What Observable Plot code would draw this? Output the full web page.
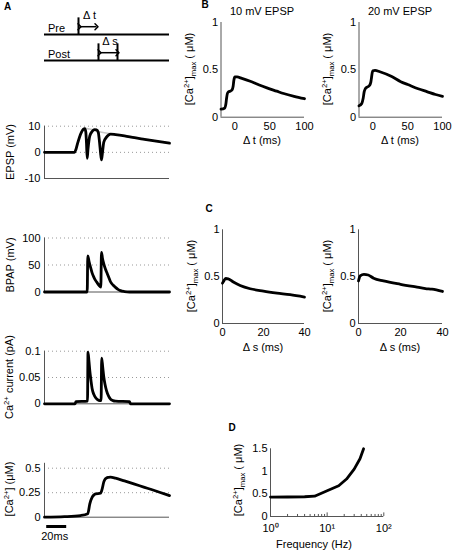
<!DOCTYPE html>
<html><head><meta charset="utf-8">
<script src="https://cdn.jsdelivr.net/npm/d3@7"></script>
<script src="https://cdn.jsdelivr.net/npm/@observablehq/plot@0.6"></script>
<style>
body{margin:0;background:#fff;}
#fig{position:relative;width:454px;height:550px;overflow:hidden;font-family:"Liberation Sans",Arial,Helvetica,sans-serif;color:#000;}
.abs{position:absolute;}
.lab{position:absolute;white-space:nowrap;line-height:1;font-size:11px;}
.rot{transform:translate(-50%,-50%) rotate(-90deg);}
.ctr{transform:translate(-50%,-50%);}
.plab{font-weight:bold;font-size:10px;}
sup{font-size:0.7em;vertical-align:0;position:relative;top:-0.5em;}
sub{font-size:0.7em;vertical-align:0;position:relative;top:0.35em;}
</style>
</head><body><div id="fig"></div>
<script>
// ---------- DATA ----------
// Panel A schematic
const schemRows = [{name: "Pre", level: 1}, {name: "Post", level: 0}];
const schemSpikes = [{t: 34, level: 1}, {t: 54, level: 0}, {t: 73, level: 0}];
const schemIntervals = [{label: "Δ t", t1: 34, t2: 52, level: 1}, {label: "Δ s", t1: 54, t2: 73, level: 0}];
const timeDomain = [0, 125]; // ms

// Panel A traces (time in ms)
const epspTime = [0, 30, 31.5, 33, 35, 37, 39, 40.3, 41.3, 42, 42.7, 43.5, 45.3, 47.7, 50, 52, 53.8, 55, 56, 57, 58, 59.3, 62, 66, 71, 80, 90, 100, 110, 125];
const epspMV   = [0, 0, 1.2, 3.3, 5.8, 7.7, 8.9, 9.1, 7.8, 3.5, -2.3, 1.2, 6.3, 8.0, 8.7, 8.6, 7.6, 4, 0, -2.9, 0, 3.9, 5.8, 7.0, 6.8, 6.3, 5.6, 5.0, 4.4, 3.5];
const epspAloneTime = [30, 31.5, 33, 35, 37, 39, 40.3, 45, 50, 55, 60, 66, 71, 80, 90, 100, 110, 125];
const epspAloneMV   = [0, 1.2, 3.3, 5.8, 7.7, 8.9, 9.2, 8.9, 8.4, 7.9, 7.5, 7.1, 6.85, 6.3, 5.6, 5.0, 4.4, 3.5];
const epspTicks = [-10, 0, 10];

const bpapTime = [0, 42.7, 43.3, 44.5, 46, 47.5, 49.3, 51, 52.7, 54.5, 56.3, 57, 58, 59.3, 61, 62.7, 64.5, 66, 68.5, 71, 73.5, 76, 80, 85, 125];
const bpapMV   = [0, 0, 67, 57, 46, 36, 27.6, 21.5, 17, 12.5, 9, 73.5, 62, 52, 42, 34.4, 26, 19, 13, 8.6, 5, 2.5, 0.8, 0, 0];
const bpapTicks = [0, 50, 100];

const icaTime = [0, 30.5, 31.5, 43, 43.5, 44.5, 45.3, 46.5, 47.7, 49.3, 51, 53, 55.3, 56.6, 57.2, 58.2, 59.3, 60.5, 62, 64, 66, 68.5, 71, 85, 86, 125];
const icaPA   = [0, 0, 0.004, 0.005, 0.098, 0.08, 0.063, 0.044, 0.028, 0.018, 0.012, 0.008, 0.006, 0.006, 0.087, 0.07, 0.051, 0.037, 0.025, 0.015, 0.009, 0.006, 0.005, 0.004, 0, 0];
const icaTicks = [0, 0.05, 0.1];

const caTime = [0, 20, 36, 43.3, 45.3, 47.7, 49.5, 51, 56, 57.7, 59.3, 60.7, 62, 64, 66, 71, 80, 89.3, 100, 107.7, 115, 125];
const caUM   = [0, 0.005, 0.017, 0.036, 0.136, 0.205, 0.228, 0.238, 0.245, 0.29, 0.36, 0.39, 0.40, 0.406, 0.408, 0.398, 0.37, 0.34, 0.305, 0.28, 0.255, 0.22];
const caTicks = [0, 0.25, 0.5];
const scaleBar = [{start: 1.7, length: 20, label: "20ms"}];

// Panel B: peak [Ca2+] vs Δt
const dtTicks = [0, 50, 100];
const dt10 = [-20, -15, -13, -12, -11, -10, -6, -4, -2.5, -1.5, 0, 3, 10, 22, 35, 46, 60, 70, 85, 100];
const ca10 = [0.085, 0.095, 0.14, 0.2, 0.245, 0.262, 0.278, 0.29, 0.33, 0.39, 0.425, 0.425, 0.41, 0.38, 0.34, 0.31, 0.275, 0.25, 0.22, 0.195];
const dt20 = [-20, -16, -14, -12.5, -11, -9, -5, -3, -2, -1, 0, 3, 10, 27, 40, 50, 65, 77.5, 90, 100];
const ca20 = [0.12, 0.145, 0.2, 0.27, 0.3, 0.315, 0.335, 0.37, 0.42, 0.47, 0.49, 0.495, 0.48, 0.43, 0.375, 0.345, 0.3, 0.27, 0.24, 0.22];
const bTitles = ["10 mV EPSP", "20 mV EPSP"];

// Panel C: peak [Ca2+] vs Δs
const dsTicks = [0, 20, 40];
const dsLeft = [0, 0.8, 1.6, 2.8, 5.3, 8.6, 13.5, 20, 26.6, 33, 40];
const caLeft = [0.43, 0.46, 0.48, 0.477, 0.442, 0.406, 0.371, 0.346, 0.325, 0.307, 0.282];
const dsRight = [0, 0.8, 2.6, 4.6, 7.2, 11.9, 20, 27.3, 31.9, 35, 40];
const caRight = [0.454, 0.508, 0.525, 0.518, 0.483, 0.454, 0.418, 0.39, 0.373, 0.366, 0.342];
const caMaxTicks = [0, 0.5, 1];

// Panel D: peak [Ca2+] vs frequency
const freqHz = [1, 2, 4, 6, 10, 16, 22, 30, 38, 44];
const caFreq = [0.43, 0.432, 0.438, 0.45, 0.57, 0.68, 0.83, 1.05, 1.28, 1.5];
const freqTicks = [1, 10, 100];
const freqTickLabels = ["10⁰", "10¹", "10²"];
const freqMinor = [2, 3, 4, 5, 6, 7, 8, 9, 20, 30, 40, 50, 60, 70, 80, 90];
const dTicks = [0, 0.5, 1, 1.5];

// ---------- HELPERS ----------
const zip = (xs, ys) => xs.map((x, i) => ({x, y: ys[i]}));
const fig = document.getElementById("fig");
const FONT = '"Liberation Sans", Arial, Helvetica, sans-serif';
const baseStyle = {background: "transparent", overflow: "visible", fontFamily: FONT, fontSize: "11px", color: "#000"};
const AX = "#555";
const TRACE = 2.8;

function place(node, left, top) {
  const d = document.createElement("div");
  d.className = "abs";
  d.style.left = left + "px"; d.style.top = top + "px";
  d.appendChild(node); fig.appendChild(d);
}
function panel(box, frame, x, y, marks) {
  const [L, T, W, H] = box, [fx0, fx1, fy0, fy1] = frame;
  const p = Plot.plot({
    width: W, height: H,
    marginLeft: fx0 - L, marginRight: L + W - fx1, marginTop: fy0 - T, marginBottom: T + H - fy1,
    x, y, style: baseStyle, marks
  });
  place(p, L, T);
}
function label(html, cx, cy, cls) {
  const d = document.createElement("div");
  d.className = "lab " + cls;
  d.style.left = cx + "px"; d.style.top = cy + "px";
  d.innerHTML = html; fig.appendChild(d);
}
const fmt = d => String(d);
function yAxis(ticks, pad = 4) {
  return Plot.axisY({ticks, tickSize: 0, tickPadding: pad, tickFormat: fmt, label: null, fill: "#000"});
}
function axesLines(xmin, ymin) {
  return [Plot.ruleX([xmin], {stroke: AX, strokeWidth: 1}), Plot.ruleY([ymin], {stroke: AX, strokeWidth: 1})];
}
function grid(ticks) {
  return Plot.ruleY(ticks.slice(1), {stroke: "#999", strokeDasharray: "1,3", strokeWidth: 1});
}

// ---------- PANEL A ----------
panel([0, 0, 200, 75], [44, 169, 0, 75], {domain: timeDomain, axis: null}, {domain: [-0.577, 2.308], axis: null}, [
  Plot.ruleY(schemRows, {y: "level", x1: d => timeDomain[0], x2: d => timeDomain[1], stroke: "#000", strokeWidth: 2}),
  Plot.ruleX(schemSpikes, {x: "t", y1: "level", y2: d => d.level + 0.64, stroke: "#000", strokeWidth: 2}),
  Plot.link(schemIntervals, {x1: d => d.t1 + 1, x2: d => d.t2, y1: d => d.level + 0.3, y2: d => d.level + 0.3,
    stroke: "#000", strokeWidth: 1.5, markerStart: "arrow", markerEnd: "arrow"}),
  Plot.text(schemIntervals, {x: d => (d.t1 + d.t2) / 2 + 2, y: d => d.level + 0.72, text: "label", fontSize: 11}),
  Plot.text(schemRows, {x: d => timeDomain[0] + 3.5, y: d => d.level + 0.25, text: "name", textAnchor: "start", fontSize: 11})
]);

panel([0, 110, 200, 80], [44, 169, 125.7, 178], {domain: timeDomain, axis: null}, {domain: [-10, 10]}, [
  grid(epspTicks),
  ...axesLines(timeDomain[0], -10),
  Plot.line(zip(epspAloneTime, epspAloneMV), {x: "x", y: "y", stroke: "#c8c8c8", strokeWidth: 1.6, curve: "monotone-x"}),
  Plot.line(zip(epspTime, epspMV), {x: "x", y: "y", stroke: "#000", strokeWidth: TRACE, curve: "monotone-x"}),
  yAxis(epspTicks)
]);

panel([0, 225, 200, 80], [44, 169, 237.5, 291.5], {domain: timeDomain, axis: null}, {domain: [0, 100]}, [
  grid(bpapTicks),
  ...axesLines(timeDomain[0], 0),
  Plot.line(zip(bpapTime, bpapMV), {x: "x", y: "y", stroke: "#000", strokeWidth: TRACE, curve: "monotone-x"}),
  yAxis(bpapTicks)
]);

panel([0, 340, 200, 75], [44, 169, 350.7, 403.3], {domain: timeDomain, axis: null}, {domain: [0, 0.1]}, [
  grid(icaTicks),
  ...axesLines(timeDomain[0], 0),
  Plot.line(zip(icaTime, icaPA), {x: "x", y: "y", stroke: "#000", strokeWidth: TRACE, curve: "monotone-x"}),
  yAxis(icaTicks)
]);

panel([0, 455, 200, 95], [44, 169, 462.8, 516.7], {domain: timeDomain, axis: null}, {domain: [0, 0.55]}, [
  grid(caTicks),
  ...axesLines(timeDomain[0], 0),
  Plot.line(zip(caTime, caUM), {x: "x", y: "y", stroke: "#000", strokeWidth: TRACE, curve: "monotone-x"}),
  yAxis(caTicks),
  Plot.link(scaleBar, {x1: "start", x2: d => d.start + d.length, y1: d => -0.095, y2: d => -0.095, stroke: "#000", strokeWidth: 3}),
  Plot.text(scaleBar, {x: d => d.start + d.length / 2 - 1.5, y: d => -0.2, text: "label", fontSize: 11})
]);

// ---------- PANEL B ----------
function curvePanel(box, frame, xdom, ydom, xs, ys, xticks, yticks) {
  panel(box, frame, {domain: xdom}, {domain: ydom}, [
    ...axesLines(xdom[0], ydom[0]),
    Plot.line(zip(xs, ys), {x: "x", y: "y", stroke: "#000", strokeWidth: TRACE, curve: "monotone-x"}),
    yAxis(yticks, 3),
    Plot.axisX({ticks: xticks, tickSize: 0, tickPadding: 5, tickFormat: fmt, label: null, fill: "#000"})
  ]);
}
curvePanel([200, 0, 120, 150], [220.5, 304, 22, 116.7], [-20, 100], [0, 1], dt10, ca10, dtTicks, caMaxTicks);
curvePanel([330, 0, 124, 150], [358.5, 442, 22, 116.7], [-20, 100], [0, 1], dt20, ca20, dtTicks, caMaxTicks);

// ---------- PANEL C ----------
curvePanel([200, 210, 120, 150], [222, 304, 229.3, 323], [0, 40], [0, 1], dsLeft, caLeft, dsTicks, caMaxTicks);
curvePanel([330, 210, 124, 150], [358, 442, 229.3, 323], [0, 40], [0, 1], dsRight, caRight, dsTicks, caMaxTicks);

// ---------- PANEL D ----------
const freqFmt = d => freqTickLabels[freqTicks.indexOf(d)];
panel([230, 430, 224, 120], [270, 383.3, 448.3, 516], {type: "log", domain: [1, 100], axis: null}, {domain: [0, 1.5]}, [
  ...axesLines(1, 0),
  Plot.ruleX(freqMinor, {y1: d => 0, y2: d => 0.045, stroke: AX}),
  Plot.ruleX(freqTicks, {y1: d => 0, y2: d => 0.08, stroke: AX}),
  Plot.line(zip(freqHz, caFreq), {x: "x", y: "y", stroke: "#000", strokeWidth: TRACE}),
  yAxis(dTicks, 3),
  Plot.text(freqTicks, {x: d => d, y: d => 0, text: freqFmt, dy: 12, fontSize: 11, fill: "#000"})
]);

// ---------- TEXT LABELS ----------
const caMax = "[Ca<sup>2+</sup>]<sub>max</sub> ( μM)";
label("A", 7.5, 7, "ctr plab");
label("B", 205, 5, "ctr plab");
label("C", 209, 209, "ctr plab");
label("D", 232, 428, "ctr plab");
label(bTitles[0], 262, 10.5, "ctr");
label(bTitles[1], 400, 10.5, "ctr");
label("EPSP (mV)", 10, 152, "rot");
label("BPAP (mV)", 10, 264.5, "rot");
label("Ca<sup>2+</sup> current (pA)", 9, 377, "rot");
label("[Ca<sup>2+</sup>] (μM)", 9, 489, "rot");
label(caMax, 189, 69, "rot");
label(caMax, 327, 69, "rot");
label(caMax, 191, 276, "rot");
label(caMax, 326.5, 276, "rot");
label(caMax, 237.7, 480, "rot");
label("Δ t (ms)", 262, 140, "ctr");
label("Δ t (ms)", 400, 140, "ctr");
label("Δ s (ms)", 263, 347, "ctr");
label("Δ s (ms)", 400, 347, "ctr");
label("Frequency (Hz)", 314, 544, "ctr");
</script></body></html>
